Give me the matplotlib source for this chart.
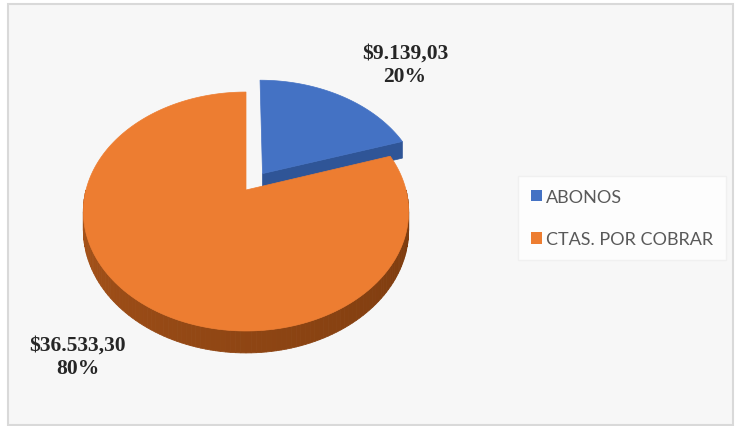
import numpy as np
import matplotlib.pyplot as plt
from matplotlib.patches import Rectangle, Polygon, Patch
from matplotlib.colors import to_rgb

categories = ["ABONOS", "CTAS. POR COBRAR"]
values = [9139.03, 36533.30]
value_labels = ["$9.139,03", "$36.533,30"]
pct_labels = ["20%", "80%"]

top_colors = ["#4472C4", "#ED7D31"]
cut_color = "#2F5597"
side_light = "#B0581C"
side_dark = "#7A3A0E"

W, H = 735, 427
fig = plt.figure(figsize=(W / 100, H / 100), dpi=100)
ax = fig.add_axes([0, 0, 1, 1])
ax.set_xlim(0, W)
ax.set_ylim(H, 0)
ax.axis("off")

# chart area frame
ax.add_patch(Rectangle((8, 5), 725, 421, facecolor="#f7f7f7",
                       edgecolor="#d9d9d9", lw=1.5, zorder=0))

# tilted pie with a bit of perspective
cx, cy = 246, 191
rx, ry = 160, 115.6
persp = 0.18
depth = 18
explode = [0.18, 0.0]


def project(u, v, z=0.0):
    s = 1.0 / (1.0 + persp * v)
    return cx + rx * u * s, cy - ry * v * s + depth * z * s


fracs = np.array(values) / np.sum(values)
ends = 90 - 360 * np.concatenate([[0], np.cumsum(fracs)[:-1]])
starts = ends - 360 * fracs

slices = []
for i in range(len(values)):
    mid = np.radians((starts[i] + ends[i]) / 2)
    ox, oy = explode[i] * np.cos(mid), explode[i] * np.sin(mid)
    slices.append((starts[i], ends[i], ox, oy))


def top_face(t1, t2, ox, oy):
    a = np.radians(np.linspace(t1, t2, 200))
    pts = [project(ox, oy)] + [project(ox + np.cos(t), oy + np.sin(t)) for t in a]
    return pts


# blue slice: front cut face, then top
t1, t2, ox, oy = slices[0]
ra = np.radians(t1)
cut = [project(ox, oy), project(ox + np.cos(ra), oy + np.sin(ra)),
       project(ox + np.cos(ra), oy + np.sin(ra), 1), project(ox, oy, 1)]
ax.add_patch(Polygon(cut, closed=True, facecolor=cut_color, edgecolor=cut_color,
                     lw=0.5, zorder=2))
ax.add_patch(Polygon(top_face(t1, t2, ox, oy), closed=True,
                     facecolor=top_colors[0], edgecolor=top_colors[0], lw=0.5, zorder=3))

# orange slice: shaded rim on the front half, then top
t1, t2, ox, oy = slices[1]
lo, hi = max(t1, -180), min(t2, 0)
edges = np.linspace(lo, hi, 121)
c0, c1 = np.array(to_rgb(side_light)), np.array(to_rgb(side_dark))
for a0, a1 in zip(edges[:-1], edges[1:]):
    m = (a0 + a1) / 2
    w = np.clip((m - lo) / (hi - lo), 0, 1) ** 0.7
    col = c0 * (1 - w) + c1 * w
    r0, r1 = np.radians(a0), np.radians(a1)
    quad = [project(ox + np.cos(r0), oy + np.sin(r0)),
            project(ox + np.cos(r1), oy + np.sin(r1)),
            project(ox + np.cos(r1), oy + np.sin(r1), 1),
            project(ox + np.cos(r0), oy + np.sin(r0), 1)]
    ax.add_patch(Polygon(quad, closed=True, facecolor=col, edgecolor=col,
                         lw=0.6, zorder=4))
ax.add_patch(Polygon(top_face(t1, t2, ox, oy), closed=True,
                     facecolor=top_colors[1], edgecolor=top_colors[1], lw=0.5, zorder=5))

# data labels
label_font = dict(family="Liberation Serif", weight="bold", size=15.5,
                  color="#262626", ha="center", va="center", zorder=6)
ax.text(405, 54, value_labels[0], **label_font)
ax.text(405, 77, pct_labels[0], **label_font)
ax.text(78, 346, value_labels[1], **label_font)
ax.text(78, 369, pct_labels[1], **label_font)

# legend
handles = [Patch(facecolor=c, edgecolor="none") for c in top_colors]
leg = ax.legend(handles, categories, loc="upper left",
                bbox_to_anchor=(518 / W, 1 - 177 / H), frameon=True,
                fancybox=False, prop={"family": "Lato", "size": 13},
                handlelength=0.6, handleheight=0.6, handletextpad=0.25,
                labelspacing=1.45, borderpad=0.72, borderaxespad=0)
leg.get_frame().set_facecolor("white")
leg.get_frame().set_edgecolor("#eeeeee")
leg.get_frame().set_linewidth(1.0)
for t in leg.get_texts():
    t.set_color("#595959")

fig.savefig("out.png", dpi=100, facecolor="white")
